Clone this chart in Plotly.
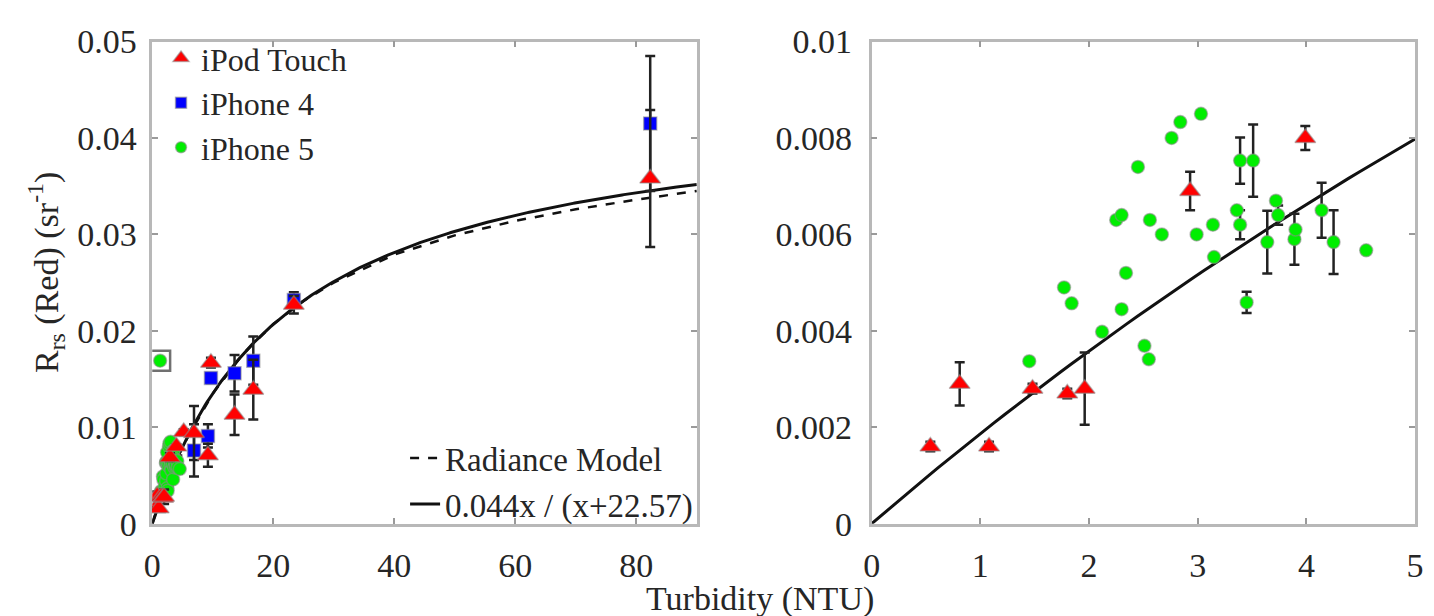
import numpy as np
import plotly.graph_objects as go

# ---------------- data ----------------
ipod_x = [0.54, 0.81, 1.08, 1.48, 1.80, 1.96, 2.93, 3.99, 5.2, 6.9, 9.2, 9.7, 13.6, 16.7, 23.4, 82.3]
ipod_y = [0.0016, 0.0029, 0.0016, 0.0028, 0.0027, 0.0028, 0.0069, 0.0080, 0.0095, 0.0094, 0.0071,
          0.0167, 0.0113, 0.0139, 0.0227, 0.0358]
ipod_err = [0.0001, 0.00045, 0.0001, 0.0001, 0.0001, 0.00075, 0.0004, 0.00025, 0.0003, 0.0028, 0.0012,
            0.0005, 0.0021, 0.0031, 0.0009, 0.0071]

iph4_x = [6.9, 9.2, 9.7, 13.6, 16.7, 23.4, 82.3]
iph4_y = [0.0076, 0.0091, 0.0151, 0.0156, 0.0169, 0.0232, 0.0415]
iph4_err = [0.0027, 0.0012, 0.0005, 0.0019, 0.0025, 0.0008, 0.0070]

iph5_x = [1.45, 1.77, 1.84, 2.12, 2.25, 2.30, 2.30, 2.34, 2.45, 2.51, 2.55, 2.56, 2.67, 2.76, 2.84, 2.99,
          3.03, 3.14, 3.15, 3.36, 3.39, 3.39, 3.45, 3.51, 3.64, 3.72, 3.74, 3.89, 3.90, 4.14, 4.25, 4.55]
iph5_y = [0.00337, 0.0049, 0.00457, 0.00398, 0.0063, 0.0064, 0.00445, 0.0052, 0.0074, 0.00369, 0.00341,
          0.0063, 0.0060, 0.0080, 0.00833, 0.0060, 0.0085, 0.0062, 0.00553, 0.0065, 0.0062, 0.00753,
          0.00459, 0.00753, 0.00584, 0.0067, 0.0064, 0.0059, 0.0061, 0.0065, 0.00584, 0.00567]
iph5_err = [0, 0, 0, 0, 0, 0, 0, 0, 0, 0, 0, 0, 0, 0, 0, 0,
            0, 0, 0, 0, 0.0003, 0.00048, 0.00022, 0.00075, 0.00065, 0, 0.0002, 0.00053, 0, 0.00057, 0.00066, 0]

outlier_x = [1.3]
outlier_y = [0.0169]

fit_a = 0.044
fit_b = 22.57

radiance_x = [0, 2, 5, 10, 15, 20, 25, 30, 40, 50, 60, 70, 80, 90]
radiance_y = [0, 0.0036, 0.0080, 0.0135, 0.0176, 0.0207, 0.0231, 0.0250, 0.0279, 0.0299, 0.0314,
              0.0326, 0.0336, 0.0345]

left_xticks = [0, 20, 40, 60, 80]
left_yticks = [0, 0.01, 0.02, 0.03, 0.04, 0.05]
left_ytext = ["0", "0.01", "0.02", "0.03", "0.04", "0.05"]
right_xticks = [0, 1, 2, 3, 4, 5]
right_yticks = [0, 0.002, 0.004, 0.006, 0.008, 0.01]
right_ytext = ["0", "0.002", "0.004", "0.006", "0.008", "0.01"]

# ---------------- styles ----------------
FONT = "Liberation Serif"
TXT = "#262626"
AXC = "#b8b8b8"
HALO = dict(color="rgba(140,140,140,0.55)", width=1.5)
ERR = dict(type="data", visible=True, color="#222222", thickness=2.5, width=5)

fig = go.Figure()

fit_x_left = np.linspace(0, 90, 300)
fit_x_right = np.linspace(0, 5, 50)


def add_panel(xa, ya, showleg):
    if xa == "x":
        fig.add_trace(go.Scatter(x=outlier_x, y=outlier_y, mode="markers", xaxis=xa, yaxis=ya,
                                 marker=dict(symbol="square-open", size=20, color="#707070",
                                             line=dict(width=2.5, color="#707070")),
                                 showlegend=False, hoverinfo="skip"))
        fig.add_trace(go.Scatter(x=outlier_x, y=outlier_y, mode="markers", xaxis=xa, yaxis=ya,
                                 marker=dict(symbol="circle", size=13, color="#00ee00", line=HALO),
                                 showlegend=False))
        fig.add_trace(go.Scatter(x=radiance_x, y=radiance_y, mode="lines", xaxis=xa, yaxis=ya,
                                 line=dict(color="#111111", width=2.5, dash="dash"),
                                 name="Radiance Model", legend="legend2", showlegend=True))
        fx = fit_x_left
    else:
        fx = fit_x_right
    fy = fit_a * fx / (fx + fit_b)
    fig.add_trace(go.Scatter(x=fx, y=fy, mode="lines", xaxis=xa, yaxis=ya,
                             line=dict(color="#111111", width=3),
                             name="0.044x / (x+22.57)", legend="legend2", showlegend=showleg))
    fig.add_trace(go.Scatter(x=iph5_x, y=iph5_y, mode="markers", xaxis=xa, yaxis=ya,
                             error_y=dict(array=iph5_err, **ERR),
                             marker=dict(symbol="circle", size=13, color="#00ee00", line=HALO),
                             name="iPhone 5", legend="legend", showlegend=False))
    fig.add_trace(go.Scatter(x=iph4_x, y=iph4_y, mode="markers", xaxis=xa, yaxis=ya,
                             error_y=dict(array=iph4_err, **ERR),
                             marker=dict(symbol="square", size=13, color="#0000ff", line=HALO),
                             name="iPhone 4", legend="legend", showlegend=False))
    fig.add_trace(go.Scatter(x=ipod_x, y=ipod_y, mode="markers", xaxis=xa, yaxis=ya,
                             error_y=dict(array=ipod_err, **ERR),
                             marker=dict(symbol="triangle-up", size=18, color="#ff0000", line=HALO),
                             name="iPod Touch", legend="legend", showlegend=False))


add_panel("x", "y", True)
add_panel("x2", "y2", False)

for nm, sym, col, sz in [("iPod Touch", "triangle-up", "#ff0000", 14),
                         ("iPhone 4", "square", "#0000ff", 11),
                         ("iPhone 5", "circle", "#00ee00", 11)]:
    fig.add_trace(go.Scatter(x=[None], y=[None], mode="markers", xaxis="x", yaxis="y",
                             marker=dict(symbol=sym, size=sz, color=col, line=HALO),
                             name=nm, legend="legend", showlegend=True))

axis_common = dict(showline=True, linecolor=AXC, linewidth=2.5, mirror="allticks",
                   ticks="inside", ticklen=6, tickwidth=1.5, tickcolor="#9a9a9a",
                   showgrid=False, zeroline=False,
                   tickfont=dict(family=FONT, size=34, color=TXT))

fig.update_layout(
    width=1434, height=616,
    margin=dict(l=0, r=0, t=0, b=0),
    paper_bgcolor="white", plot_bgcolor="white",
    font=dict(family=FONT, size=34, color=TXT),
    xaxis=dict(domain=[0.1018, 0.4861], range=[0, 90], tickvals=left_xticks,
               anchor="y", ticklabelstandoff=10, **axis_common),
    yaxis=dict(domain=[0.1266, 0.9594], range=[0, 0.05], tickvals=left_yticks, ticktext=left_ytext,
               anchor="x", ticklabelstandoff=6, **axis_common),
    xaxis2=dict(domain=[0.6095, 0.9930], range=[0, 5], tickvals=right_xticks,
                anchor="y2", ticklabelstandoff=10, **axis_common),
    yaxis2=dict(domain=[0.1266, 0.9594], range=[0, 0.01], tickvals=right_yticks, ticktext=right_ytext,
                anchor="x2", ticklabelstandoff=10, **axis_common),
    legend=dict(x=0.108, y=0.978, xanchor="left", yanchor="top", bgcolor="rgba(0,0,0,0)",
                font=dict(family=FONT, size=32, color=TXT), itemwidth=30, tracegroupgap=0),
    legend2=dict(x=0.487, y=0.112, xanchor="right", yanchor="bottom", bgcolor="rgba(0,0,0,0)",
                 font=dict(family=FONT, size=33, color=TXT), itemwidth=30, tracegroupgap=0),
    showlegend=True,
)

fig.add_annotation(text="Turbidity (NTU)", xref="paper", yref="paper", x=0.531, y=-0.004,
                   xanchor="center", yanchor="middle", showarrow=False,
                   font=dict(family=FONT, size=34, color=TXT))
fig.add_annotation(text="R<sub>rs</sub> (Red) (sr<sup>-1</sup>)", xref="paper", yref="paper",
                   x=0.027, y=0.56, xanchor="center", yanchor="middle", textangle=-90,
                   showarrow=False, font=dict(family=FONT, size=34, color=TXT))

fig.write_html("out.html")
